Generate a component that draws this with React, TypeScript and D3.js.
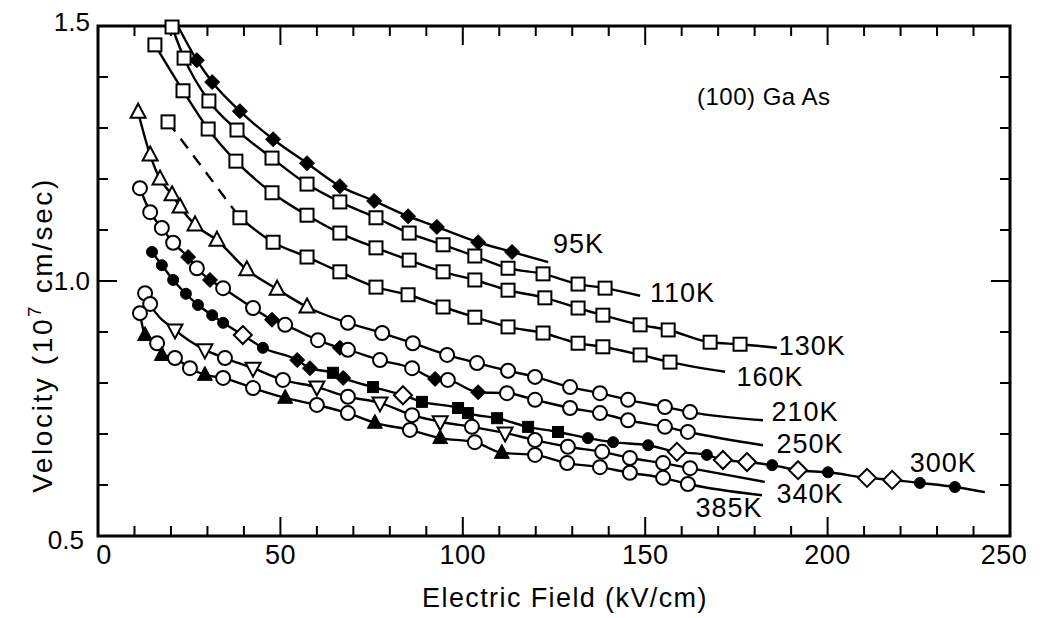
import React from 'react';
import * as d3 from 'd3';

// [field kV/cm, velocity 1e7 cm/s, marker] ; marker '-' = line point only
type Pt = [number, number, string];

const xTickValues = [0, 50, 100, 150, 200, 250];
const yTickValues = [0.5, 1.0, 1.5];
const yTickLabels = ['0.5', '1.0', '1.5'];

const k95: Pt[] = [
  [21.9, 1.5, '-'], [27.1, 1.433, 'fd'], [31.3, 1.39, 'fd'], [38.9, 1.333, 'fd'], [48.0, 1.278, 'fd'],
  [57.3, 1.231, 'fd'], [66.3, 1.186, 'fd'], [75.7, 1.157, 'fd'], [85.0, 1.127, 'fd'], [92.9, 1.106, 'fd'],
  [104.2, 1.076, 'fd'], [113.5, 1.057, 'fd'], [123.4, 1.037, '-'],
];
const k110: Pt[] = [
  [20.3, 1.498, 'sq'], [23.6, 1.437, 'sq'], [30.4, 1.353, 'sq'], [38.1, 1.296, 'sq'], [47.7, 1.241, 'sq'],
  [57.3, 1.19, 'sq'], [66.3, 1.155, 'sq'], [76.2, 1.124, 'sq'], [85.3, 1.094, 'sq'], [94.6, 1.071, 'sq'],
  [103.3, 1.049, 'sq'], [112.4, 1.025, 'sq'], [122.0, 1.014, 'sq'], [131.6, 0.994, 'sq'], [139.0, 0.986, 'sq'],
  [148.6, 0.971, '-'],
];
const k130: Pt[] = [
  [15.6, 1.463, 'sq'], [23.3, 1.373, 'sq'], [30.2, 1.298, 'sq'], [37.8, 1.235, 'sq'], [47.7, 1.173, 'sq'],
  [57.3, 1.129, 'sq'], [66.3, 1.094, 'sq'], [76.2, 1.065, 'sq'], [85.3, 1.041, 'sq'], [94.6, 1.018, 'sq'],
  [103.3, 1.002, 'sq'], [112.4, 0.982, 'sq'], [122.5, 0.967, 'sq'], [131.6, 0.947, 'sq'], [138.4, 0.933, 'sq'],
  [148.6, 0.914, 'sq'], [156.3, 0.904, 'sq'], [167.8, 0.88, 'sq'], [176.0, 0.876, 'sq'], [186.1, 0.869, '-'],
];
const k160: Pt[] = [
  [19.2, 1.312, 'sq'], [38.9, 1.124, 'sq'], [48.0, 1.076, 'sq'], [57.3, 1.047, 'sq'], [66.3, 1.018, 'sq'],
  [76.2, 0.988, 'sq'], [85.0, 0.973, 'sq'], [94.6, 0.949, 'sq'], [103.3, 0.929, 'sq'], [112.4, 0.91, 'sq'],
  [122.0, 0.898, 'sq'], [131.6, 0.878, 'sq'], [138.4, 0.871, 'sq'], [148.6, 0.855, 'sq'], [156.8, 0.841, 'sq'],
  [171.9, 0.822, '-'],
];
const k210: Pt[] = [
  [11.0, 1.331, 'ut'], [14.3, 1.247, 'ut'], [17.0, 1.2, 'ut'], [20.3, 1.169, 'ut'], [22.5, 1.145, 'ut'],
  [26.6, 1.11, 'ut'], [32.6, 1.08, 'ut'], [40.8, 1.022, 'ut'], [49.1, 0.984, 'ut'], [57.3, 0.949, 'ut'],
  [68.5, 0.918, 'c'], [77.9, 0.898, 'c'], [86.3, 0.878, 'c'], [95.7, 0.855, 'c'], [103.9, 0.839, 'c'],
  [112.4, 0.824, 'c'], [119.8, 0.812, 'c'], [129.4, 0.792, 'c'], [137.6, 0.78, 'c'], [145.3, 0.767, 'c'],
  [155.4, 0.753, 'c'], [162.3, 0.743, 'c'], [182.3, 0.727, '-'],
];
const k250: Pt[] = [
  [11.5, 1.182, 'c'], [14.3, 1.135, 'c'], [17.5, 1.104, 'c'], [20.6, 1.075, 'c'], [24.7, 1.047, 'fd'],
  [27.1, 1.025, 'c'], [30.7, 1.002, 'fd'], [34.3, 0.986, 'c'], [42.5, 0.947, 'c'], [47.7, 0.924, 'fd'],
  [51.3, 0.914, 'c'], [60.3, 0.884, 'c'], [66.3, 0.869, 'fd'], [68.5, 0.865, 'c'], [77.3, 0.845, 'c'],
  [86.1, 0.829, 'c'], [92.4, 0.808, 'fd'], [95.9, 0.806, 'c'], [104.2, 0.782, 'fd'], [112.1, 0.78, 'c'],
  [119.8, 0.767, 'c'], [129.4, 0.751, 'c'], [137.6, 0.741, 'c'], [145.3, 0.727, 'c'], [155.4, 0.714, 'c'],
  [161.7, 0.704, 'c'], [182.3, 0.678, '-'],
];
const k300: Pt[] = [
  [14.8, 1.057, 'fc'], [17.5, 1.031, 'fc'], [20.6, 1.002, 'fc'], [24.1, 0.975, 'fc'], [27.4, 0.953, 'fc'],
  [31.3, 0.933, 'fc'], [34.3, 0.918, 'fc'], [39.7, 0.894, 'od'], [45.2, 0.869, 'fc'], [54.6, 0.845, 'fd'],
  [58.1, 0.829, 'fd'], [64.4, 0.82, 'fsq'], [67.2, 0.81, 'fd'], [75.4, 0.792, 'fsq'], [83.6, 0.776, 'od'],
  [88.8, 0.763, 'fsq'], [98.7, 0.751, 'fsq'], [101.4, 0.741, 'fsq'], [109.4, 0.731, 'fsq'], [117.9, 0.714, 'fsq'],
  [126.1, 0.704, 'fsq'], [134.3, 0.692, 'fc'], [141.2, 0.684, 'fc'], [150.8, 0.678, 'fc'], [158.7, 0.665, 'od'],
  [166.9, 0.659, 'fc'], [171.3, 0.649, 'od'], [177.9, 0.645, 'od'], [184.8, 0.639, 'fc'], [191.9, 0.629, 'od'],
  [200.1, 0.625, 'fc'], [210.8, 0.614, 'od'], [217.7, 0.61, 'od'], [225.3, 0.604, 'fc'], [234.9, 0.596, 'fc'],
  [243.1, 0.586, '-'],
];
const k340: Pt[] = [
  [12.9, 0.976, 'c'], [14.3, 0.955, 'c'], [21.1, 0.904, 'dt'], [29.3, 0.865, 'dt'], [34.8, 0.849, 'c'],
  [42.5, 0.829, 'dt'], [50.7, 0.806, 'c'], [60.0, 0.792, 'dt'], [68.5, 0.773, 'c'], [77.3, 0.761, 'dt'],
  [86.1, 0.737, 'c'], [93.8, 0.724, 'dt'], [102.5, 0.714, 'c'], [111.6, 0.702, 'dt'], [119.8, 0.688, 'c'],
  [128.8, 0.675, 'c'], [138.2, 0.665, 'c'], [145.8, 0.653, 'c'], [154.9, 0.643, 'c'], [162.3, 0.633, 'c'],
  [182.8, 0.606, '-'],
];
const k385: Pt[] = [
  [11.5, 0.937, 'c'], [12.9, 0.894, 'ft'], [16.2, 0.878, 'c'], [17.5, 0.855, 'ft'], [21.1, 0.849, 'c'],
  [25.2, 0.829, 'c'], [29.3, 0.816, 'ft'], [34.3, 0.81, 'c'], [42.5, 0.79, 'c'], [51.3, 0.771, 'ft'],
  [60.0, 0.757, 'c'], [68.5, 0.741, 'c'], [75.9, 0.722, 'ft'], [85.5, 0.708, 'c'], [93.8, 0.692, 'ft'],
  [103.3, 0.684, 'c'], [110.7, 0.663, 'ft'], [119.8, 0.659, 'c'], [128.6, 0.643, 'c'], [137.6, 0.635, 'c'],
  [145.8, 0.624, 'c'], [154.9, 0.614, 'c'], [161.7, 0.602, 'c'], [182.0, 0.58, '-'],
];

const seriesNames = ['95K', '110K', '130K', '160K', '210K', '250K', '300K', '340K', '385K'];
const seriesData = [k95, k110, k130, k160, k210, k250, k300, k340, k385];
// label anchors (left edge, vertical centre) in data units
const labelField = [124.7, 151.3, 186.6, 175.0, 184.6, 186.0, 222.5, 186.0, 163.8];
const labelVelocity = [1.073, 0.976, 0.873, 0.812, 0.743, 0.68, 0.643, 0.582, 0.555];

const W = 1043;
const H = 618;
const FONT = '"Liberation Sans", Arial, sans-serif';

function Marker({ kind, cx, cy }: { kind: string; cx: number; cy: number }) {
  const sw = 2;
  switch (kind) {
    case 'sq':
      return <rect x={cx - 6.5} y={cy - 6.5} width={13} height={13} fill="#fff" stroke="#000" strokeWidth={sw} />;
    case 'fsq':
      return <rect x={cx - 5.5} y={cy - 5.5} width={11} height={11} fill="#000" stroke="#000" strokeWidth={1} />;
    case 'c':
      return <circle cx={cx} cy={cy} r={7} fill="#fff" stroke="#000" strokeWidth={sw} />;
    case 'fc':
      return <circle cx={cx} cy={cy} r={5.5} fill="#000" stroke="#000" strokeWidth={1} />;
    case 'fd': {
      const h = 7.5;
      return <polygon points={`${cx},${cy - h} ${cx + h},${cy} ${cx},${cy + h} ${cx - h},${cy}`} fill="#000" stroke="#000" strokeWidth={1} />;
    }
    case 'od': {
      const h = 9;
      return <polygon points={`${cx},${cy - h} ${cx + h},${cy} ${cx},${cy + h} ${cx - h},${cy}`} fill="#fff" stroke="#000" strokeWidth={sw} />;
    }
    case 'ut':
      return <polygon points={`${cx},${cy - 8.5} ${cx + 7.5},${cy + 5.5} ${cx - 7.5},${cy + 5.5}`} fill="#fff" stroke="#000" strokeWidth={sw} />;
    case 'dt':
      return <polygon points={`${cx},${cy + 8.5} ${cx + 7.5},${cy - 5.5} ${cx - 7.5},${cy - 5.5}`} fill="#fff" stroke="#000" strokeWidth={sw} />;
    case 'ft':
      return <polygon points={`${cx},${cy - 8.5} ${cx + 7.5},${cy + 5.5} ${cx - 7.5},${cy + 5.5}`} fill="#000" stroke="#000" strokeWidth={1} />;
    default:
      return null;
  }
}

export default function App() {
  const x = d3.scaleLinear().domain([0, 250]).range([98, 1010]);
  const y = d3.scaleLinear().domain([0.5, 1.5]).range([536, 26]);
  const line = d3
    .line<Pt>()
    .x((d) => x(d[0]))
    .y((d) => y(d[1]))
    .curve(d3.curveMonotoneX);

  const xMinor = d3.range(0, 251, 10);
  const yMinor = d3.range(0.5, 1.5001, 0.1);
  const [x0, x1] = x.range();
  const [y0, y1] = y.range();

  return (
    <svg width={W} height={H} style={{ position: 'absolute', left: 0, top: 0, background: '#fff' }} fontFamily={FONT}>
      <rect width={W} height={H} fill="#fff" />
      {/* frame */}
      <rect x={x0} y={y1} width={x1 - x0} height={y0 - y1} fill="none" stroke="#000" strokeWidth={3} />
      {/* x ticks bottom + top */}
      {xMinor.map((v) => {
        const major = v % 50 === 0;
        const len = major ? 19 : 10;
        if (v === 0 || v === 250) return null;
        return (
          <g key={'xt' + v}>
            <line x1={x(v)} x2={x(v)} y1={y0} y2={y0 - len} stroke="#000" strokeWidth={2} />
            <line x1={x(v)} x2={x(v)} y1={y1} y2={y1 + len} stroke="#000" strokeWidth={2} />
          </g>
        );
      })}
      {/* y ticks left + right */}
      {yMinor.map((v, i) => {
        if (i === 0 || i === yMinor.length - 1) return null;
        const major = Math.abs(v - 1.0) < 1e-6;
        const len = major ? 19 : 10;
        return (
          <g key={'yt' + i}>
            <line x1={x0} x2={x0 + len} y1={y(v)} y2={y(v)} stroke="#000" strokeWidth={2} />
            <line x1={x1} x2={x1 - len} y1={y(v)} y2={y(v)} stroke="#000" strokeWidth={2} />
          </g>
        );
      })}
      {/* tick labels */}
      {xTickValues.map((v) => (
        <text key={'xl' + v} x={x(v) + (v === 0 ? 6 : v === 250 ? -6 : 0)} y={564} textAnchor="middle" fontSize={27} letterSpacing={0.5} fill="#000">
          {v}
        </text>
      ))}
      {yTickValues.map((v, i) => (
        <text key={'yl' + v} x={x0 - 8 - (i === 0 ? 6 : 0)} y={y(v) + (i === 0 ? 4 : i === 2 ? -4 : 0)} textAnchor="end" dominantBaseline="central" fontSize={26} fill="#000">
          {yTickLabels[i]}
        </text>
      ))}
      {/* axis titles */}
      <text x={565} y={607} textAnchor="middle" fontSize={27} letterSpacing={1.4} fill="#000">Electric Field (kV/cm)</text>
      <text transform={`translate(52,335) rotate(-90)`} textAnchor="middle" fontSize={28} letterSpacing={2.6} fill="#000">
        Velocity (10<tspan dy={-11} fontSize={19}>7</tspan><tspan dy={11}> cm/sec)</tspan>
      </text>
      <text x={697} y={96} dominantBaseline="central" fontSize={24} letterSpacing={0.5} fill="#000">(100) Ga As</text>

      {/* curves */}
      {seriesData.map((pts, i) => {
        const dashed = seriesNames[i] === '160K';
        const solid = dashed ? pts.slice(1) : pts;
        return (
          <g key={'s' + i}>
            <path d={line(solid) || ''} fill="none" stroke="#000" strokeWidth={2.4} />
            {dashed && (
              <path d={line(pts.slice(0, 2)) || ''} fill="none" stroke="#000" strokeWidth={2.4} strokeDasharray="12 9" />
            )}
          </g>
        );
      })}
      {/* markers */}
      {seriesData.map((pts, i) => (
        <g key={'m' + i}>
          {pts.map((p, j) => (
            <Marker key={j} kind={p[2]} cx={x(p[0])} cy={y(p[1])} />
          ))}
        </g>
      ))}
      {/* series labels */}
      {seriesNames.map((n, i) => (
        <text key={'lab' + n} x={x(labelField[i])} y={y(labelVelocity[i])} dominantBaseline="central" fontSize={27} letterSpacing={1} fill="#000">
          {n}
        </text>
      ))}
    </svg>
  );
}
